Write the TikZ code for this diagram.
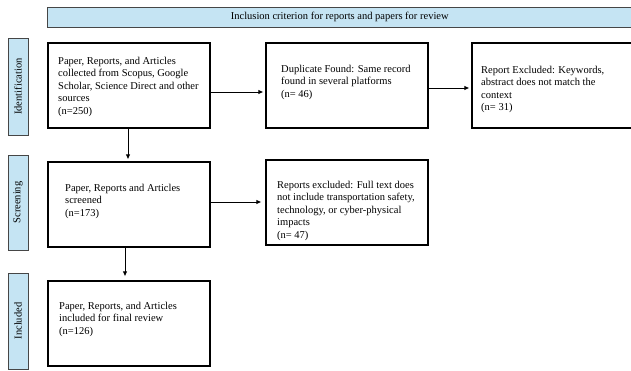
\documentclass[tikz,border=0pt]{standalone}
\usepackage{fontspec}
\setmainfont{Liberation Serif}
\usetikzlibrary{arrows.meta}
\definecolor{lblue}{RGB}{197,228,243}
\definecolor{edgegray}{RGB}{70,70,70}
\begin{document}
\begin{tikzpicture}[x=1pt,y=-1pt,
  font=\fontsize{10.5}{12.4}\selectfont,
  box/.style={draw=black, line width=1.2pt, minimum width=162pt, minimum height=85pt, inner sep=0pt},
  txt/.style={anchor=north west, align=left, inner sep=0pt},
  side/.style={draw=edgegray, fill=lblue, line width=0.8pt, rotate=90, minimum height=20pt, inner sep=0pt},
  arr/.style={-{Latex[length=5pt,width=4.5pt]}, line width=0.9pt}]
\useasboundingbox (0,0) rectangle (631,370);
% banner
\node[draw=edgegray, fill=lblue, line width=0.8pt, minimum width=585pt, minimum height=20pt, inner sep=0pt] (banner) at (339.75,17) {Inclusion criterion for reports and papers for review};
% side labels
\node[side, minimum width=97pt] (sid) at (18,86.5) {Identification};
\node[side, minimum width=95pt] (ssc) at (18,202.5) {Screening};
\node[side, minimum width=96pt] (sin) at (18,321) {Included};
% boxes
\node[box] (b1) at (129,85.5) {};
\node[box] (b2) at (347,85.5) {};
\node[box, minimum width=160pt] (b3) at (552,85.5) {};
\node[box] (b4) at (129,204.5) {};
\node[box] (b5) at (347,202.5) {};
\node[box] (b6) at (129,323.5) {};
% texts
\node[txt] (t1) at (58,57) {Paper, Reports, and Articles\\collected from Scopus, Google\\Scholar, Science Direct and other\\sources\\(n=250)};
\node[txt] (t2) at (281,65) {Duplicate Found: Same record\\found in several platforms\\(n= 46)};
\node[txt] (t3) at (481,66) {Report Excluded: Keywords,\\abstract does not match the\\context\\(n= 31)};
\node[txt] (t4) at (65,184) {Paper, Reports and Articles\\screened\\(n=173)};
\node[txt] (t5) at (277,181) {Reports excluded: Full text does\\not include transportation safety,\\technology, or cyber-physical\\impacts\\(n= 47)};
\node[txt] (t6) at (59,302) {Paper, Reports, and Articles\\included for final review\\(n=126)};
% arrows
\coordinate (a4) at ([yshift=2.5pt]b4.east);
\draw[arr, shorten >=2pt] ([yshift=-6.5pt]b1.east) -- ([yshift=-6.5pt]b2.west);
\draw[arr, shorten >=2pt] ([yshift=-2.5pt]b2.east) -- ([yshift=-2.5pt]b3.west);
\draw[arr, shorten >=4pt] (a4) -- (b5.west |- a4);
\draw[arr, shorten >=2pt] ([xshift=-1pt]b1.south) -- ([xshift=-1pt]b4.north);
\draw[arr, shorten >=4pt] ([xshift=-4pt]b4.south) -- ([xshift=-4pt]b6.north);
\end{tikzpicture}
\end{document}
